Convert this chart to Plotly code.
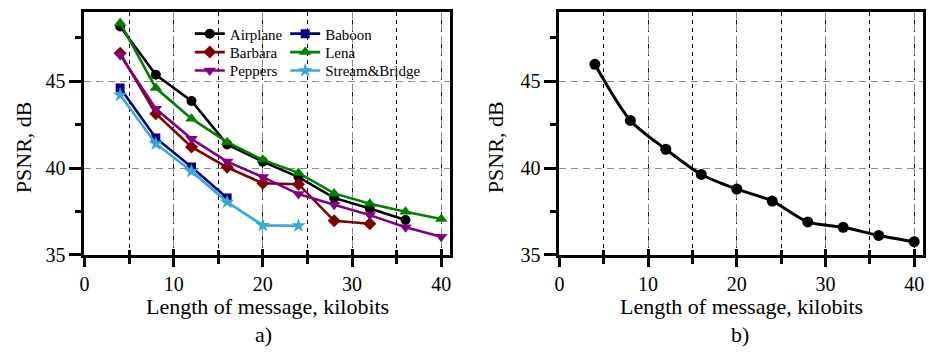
import plotly.graph_objects as go

# ---------------- data ----------------
msg_kb = [4, 8, 12, 16, 20, 24, 28, 32, 36, 40]
airplane = [48.15, 45.37, 43.86, 41.36, 40.37, 39.48, 38.28, 37.67, 37.01]
baboon = [44.6, 41.73, 40.06, 38.28]
barbara = [46.6, 43.13, 41.21, 40.04, 39.12, 39.07, 36.96, 36.79]
lena = [48.35, 44.6, 42.84, 41.49, 40.47, 39.72, 38.54, 37.95, 37.48, 37.07]
peppers = [46.5, 43.41, 41.68, 40.37, 39.48, 38.5, 37.89, 37.29, 36.59, 36.04]
stream_bridge = [44.2, 41.4, 39.81, 38.04, 36.7, 36.68]
average = [45.97, 42.74, 41.08, 39.63, 38.79, 38.1, 36.9, 36.59, 36.12, 35.76]

series_names = ["Airplane", "Baboon", "Barbara", "Lena", "Peppers", "Stream&Bridge"]
series_vals = [airplane, baboon, barbara, lena, peppers, stream_bridge]
series_colors = ["#000000", "#000080", "#800000", "#008000", "#800080", "#38A8D6"]
series_symbols = ["circle", "square", "diamond", "triangle-up", "triangle-down", "star"]
series_sizes = [10, 9, 10, 11, 11, 11]

x_ticks = [0, 10, 20, 30, 40]
y_ticks = [35, 40, 45]

FONT = "Liberation Serif, Times New Roman, Times, serif"
W, H = 929, 358


def px(x):
    return x / W


def py(y):
    return 1 - y / H


# legend slot of each series (column, row) -> one single-entry legend each
legend_cols_px = [186, 282]
legend_rows_px = [35, 54, 73]
series_slot = [(0, 0), (1, 0), (0, 1), (1, 1), (0, 2), (1, 2)]
legend_ids = ["legend", "legend2", "legend3", "legend4", "legend5", "legend6"]

fig = go.Figure()

for name, vals, col, sym, sz, lg in zip(series_names, series_vals, series_colors,
                                       series_symbols, series_sizes, legend_ids):
    fig.add_trace(go.Scatter(
        x=msg_kb[:len(vals)], y=vals, name=name, mode="lines+markers",
        line=dict(color=col, width=2.6),
        marker=dict(symbol=sym, size=sz, color=col),
        xaxis="x", yaxis="y", legend=lg,
    ))

fig.add_trace(go.Scatter(
    x=msg_kb, y=average, mode="lines+markers", showlegend=False,
    line=dict(color="black", width=3, shape="spline", smoothing=0.8),
    marker=dict(symbol="circle", size=11, color="black"),
    xaxis="x2", yaxis="y2",
))

# empty traces to activate overlay axes (inside tick marks)
fig.add_trace(go.Scatter(x=[None], y=[None], xaxis="x3", yaxis="y", showlegend=False, hoverinfo="skip"))
fig.add_trace(go.Scatter(x=[None], y=[None], xaxis="x4", yaxis="y2", showlegend=False, hoverinfo="skip"))

left_dom = [px(80), px(448)]
right_dom = [px(558), px(924)]
y_dom = [py(263), py(12)]

tickfont = dict(family=FONT, size=20, color="black")


def xaxis_cfg(domain, anchor):
    return dict(
        domain=domain, anchor=anchor, range=[0, 41],
        tickvals=x_ticks, ticktext=[str(v) for v in x_ticks],
        ticks="outside", ticklen=9, tickwidth=3, tickcolor="black",
        tickfont=tickfont,
        showline=True, linewidth=3, linecolor="black", mirror=True,
        showgrid=True, gridcolor="#8a8a8a", gridwidth=1.2, griddash="7px,5px",
        zeroline=False,
        minor=dict(dtick=5, tick0=0, ticks="outside", ticklen=6, tickwidth=3,
                   tickcolor="black", showgrid=True, gridcolor="#000000",
                   gridwidth=1, griddash="4px,4px"),
    )


def xaxis_overlay(over, anchor):
    return dict(
        overlaying=over, anchor=anchor, range=[0, 41],
        tickvals=x_ticks, ticks="inside", ticklen=6, tickwidth=3, tickcolor="black",
        showticklabels=False, showline=False, showgrid=False, zeroline=False,
        minor=dict(dtick=5, tick0=0, ticks="inside", ticklen=5, tickwidth=3,
                   tickcolor="black", showgrid=False),
    )


def yaxis_cfg(anchor):
    return dict(
        domain=y_dom, anchor=anchor, range=[35, 49],
        tickvals=y_ticks, ticktext=[str(v) for v in y_ticks],
        ticks="outside", ticklen=12, tickwidth=3, tickcolor="black",
        tickfont=tickfont,
        showline=True, linewidth=3, linecolor="black", mirror=True,
        showgrid=True, gridcolor="#8a8a8a", gridwidth=1.2, griddash="7px,5px",
        zeroline=False,
        minor=dict(dtick=2.5, tick0=35, ticks="outside", ticklen=6, tickwidth=3,
                   tickcolor="black", showgrid=False),
    )


legend_common = dict(
    bgcolor="rgba(0,0,0,0)", borderwidth=0,
    font=dict(family=FONT, size=15, color="black"),
    xanchor="left", yanchor="middle", orientation="v",
    itemwidth=30, tracegroupgap=0,
)

legends = {}
for lg, (c, r) in zip(legend_ids, series_slot):
    legends[lg] = dict(x=px(legend_cols_px[c]), y=py(legend_rows_px[r]), **legend_common)

annot_font = dict(family=FONT, size=22, color="black")
annotations = [
    dict(text="Length of message, kilobits", x=px(264), y=py(316), xref="paper", yref="paper",
         showarrow=False, font=annot_font, xanchor="center", yanchor="middle"),
    dict(text="Length of message, kilobits", x=px(741), y=py(316), xref="paper", yref="paper",
         showarrow=False, font=annot_font, xanchor="center", yanchor="middle"),
    dict(text="a)", x=px(260), y=py(345), xref="paper", yref="paper",
         showarrow=False, font=annot_font, xanchor="center", yanchor="middle"),
    dict(text="b)", x=px(740), y=py(345), xref="paper", yref="paper",
         showarrow=False, font=annot_font, xanchor="center", yanchor="middle"),
    dict(text="PSNR, dB", x=px(18), y=py(152), xref="paper", yref="paper", textangle=-90,
         showarrow=False, font=annot_font, xanchor="center", yanchor="middle"),
    dict(text="PSNR, dB", x=px(494), y=py(152), xref="paper", yref="paper", textangle=-90,
         showarrow=False, font=annot_font, xanchor="center", yanchor="middle"),
]

fig.update_layout(
    width=W, height=H,
    margin=dict(l=0, r=0, t=0, b=0),
    paper_bgcolor="white", plot_bgcolor="white",
    font=dict(family=FONT, color="black"),
    xaxis=xaxis_cfg(left_dom, "y"),
    yaxis=yaxis_cfg("x"),
    xaxis2=xaxis_cfg(right_dom, "y2"),
    yaxis2=yaxis_cfg("x2"),
    xaxis3=xaxis_overlay("x", "y"),
    xaxis4=xaxis_overlay("x2", "y2"),
    annotations=annotations,
    showlegend=True,
    **legends,
)

fig.write_html("out.html")
